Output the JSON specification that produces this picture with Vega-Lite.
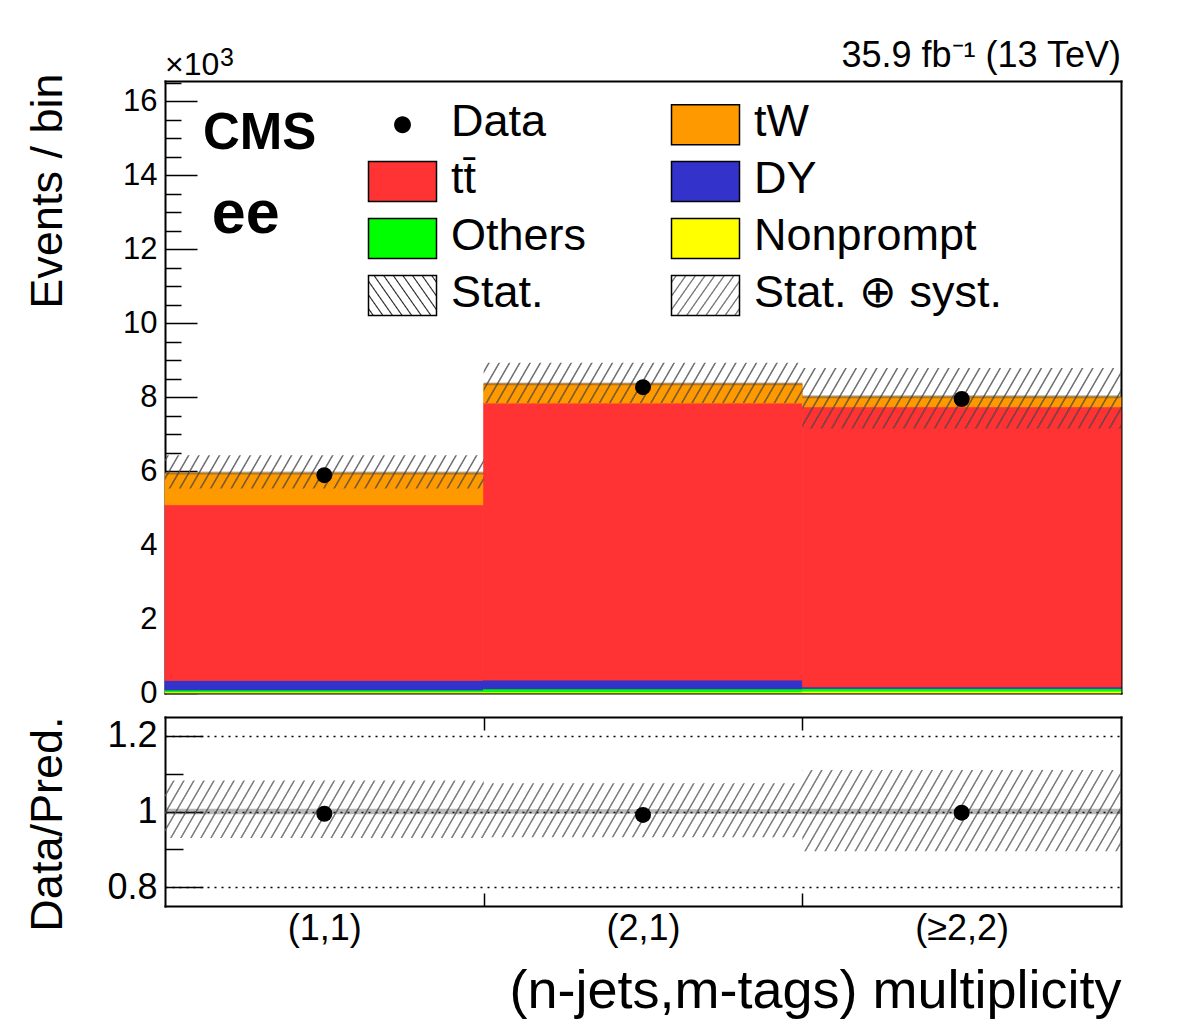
{
  "$schema": "https://vega.github.io/schema/vega-lite/v6.json",
  "background": "white",
  "padding": {"left": 24, "top": 38, "right": 50, "bottom": 15},
  "config": {
    "font": "Liberation Sans",
    "view": {"stroke": null},
    "axis": {
      "labelFont": "Liberation Sans",
      "titleFont": "Liberation Sans",
      "labelColor": "black",
      "titleColor": "black",
      "tickColor": "black",
      "domainColor": "black",
      "domainWidth": 2,
      "domainCap": "square",
      "tickWidth": 1.5,
      "grid": false,
      "titleFontWeight": "normal",
      "labelOverlap": false,
      "labelFlush": false,
      "zindex": 1
    }
  },
  "datasets": {
    "processes": [
      {"bin": "(1,1)", "lo": 0, "hi": 1, "process": "Nonprompt", "events": 0.03},
      {"bin": "(1,1)", "lo": 0, "hi": 1, "process": "Others", "events": 0.05},
      {"bin": "(1,1)", "lo": 0, "hi": 1, "process": "DY", "events": 0.26},
      {"bin": "(1,1)", "lo": 0, "hi": 1, "process": "tt̄", "events": 4.75},
      {"bin": "(1,1)", "lo": 0, "hi": 1, "process": "tW", "events": 0.86},
      {"bin": "(2,1)", "lo": 1, "hi": 2, "process": "Nonprompt", "events": 0.03},
      {"bin": "(2,1)", "lo": 1, "hi": 2, "process": "Others", "events": 0.08},
      {"bin": "(2,1)", "lo": 1, "hi": 2, "process": "DY", "events": 0.24},
      {"bin": "(2,1)", "lo": 1, "hi": 2, "process": "tt̄", "events": 7.49},
      {"bin": "(2,1)", "lo": 1, "hi": 2, "process": "tW", "events": 0.52},
      {"bin": "(≥2,2)", "lo": 2, "hi": 3, "process": "Nonprompt", "events": 0.05},
      {"bin": "(≥2,2)", "lo": 2, "hi": 3, "process": "Others", "events": 0.07},
      {"bin": "(≥2,2)", "lo": 2, "hi": 3, "process": "DY", "events": 0.045},
      {"bin": "(≥2,2)", "lo": 2, "hi": 3, "process": "tt̄", "events": 7.575},
      {"bin": "(≥2,2)", "lo": 2, "hi": 3, "process": "tW", "events": 0.27}
    ],
    "bins": [
      {"bin": "(1,1)", "lo": 0, "hi": 1, "data": 5.89, "syst_lo": 5.53, "syst_hi": 6.43, "stat_lo": 5.91, "stat_hi": 5.99, "ratio": 0.994, "r_lo": 0.930, "r_hi": 1.082, "rs_lo": 0.993, "rs_hi": 1.007},
      {"bin": "(2,1)", "lo": 1, "hi": 2, "data": 8.27, "syst_lo": 7.84, "syst_hi": 8.93, "stat_lo": 8.32, "stat_hi": 8.40, "ratio": 0.991, "r_lo": 0.932, "r_hi": 1.075, "rs_lo": 0.994, "rs_hi": 1.006},
      {"bin": "(≥2,2)", "lo": 2, "hi": 3, "data": 7.95, "syst_lo": 7.15, "syst_hi": 8.79, "stat_lo": 7.97, "stat_hi": 8.05, "ratio": 0.997, "r_lo": 0.895, "r_hi": 1.110, "rs_lo": 0.993, "rs_hi": 1.007}
    ]
  },
  "bounds": "flush",
  "spacing": 24,
  "resolve": {
    "scale": {"x": "independent", "y": "independent", "color": "independent", "stroke": "independent"},
    "axis": {"x": "independent", "y": "independent"},
    "legend": {"color": "independent"}
  },
  "vconcat": [
    {
      "width": 956,
      "height": 612,
      "resolve": {"axis": {"x": "independent", "y": "independent"}},
      "layer": [
        {
          "data": {"name": "processes"},
          "transform": [
            {"calculate": "indexof(['Nonprompt','Others','DY','tt̄','tW'], datum.process)", "as": "stack_order"},
            {"stack": "events", "groupby": ["bin"], "sort": [{"field": "stack_order", "order": "ascending"}], "as": ["y0", "y1"]}
          ],
          "mark": {"type": "rect", "strokeWidth": 0.8},
          "encoding": {
            "x": {
              "field": "lo", "type": "quantitative",
              "scale": {"domain": [0, 3], "nice": false, "zero": false},
              "axis": {"orient": "bottom", "values": [1, 2], "tickSize": -17, "labels": false, "title": null, "domain": true}
            },
            "x2": {"field": "hi"},
            "y": {
              "field": "y0", "type": "quantitative",
              "scale": {"domain": [0, 16.55], "nice": false, "zero": false},
              "axis": {
                "orient": "left",
                "values": [0, 0.5, 1, 1.5, 2, 2.5, 3, 3.5, 4, 4.5, 5, 5.5, 6, 6.5, 7, 7.5, 8, 8.5, 9, 9.5, 10, 10.5, 11, 11.5, 12, 12.5, 13, 13.5, 14, 14.5, 15, 15.5, 16, 16.5],
                "tickSize": {"condition": {"test": "datum.value % 2 === 0", "value": -32}, "value": -16},
                "labelExpr": "datum.value % 2 === 0 ? format(datum.value, 'd') : ''",
                "labelFontSize": 31,
                "labelPadding": 40,
                "title": "Events / bin",
                "titleFontSize": 45,
                "titleAngle": -90,
                "titleX": -104,
                "titleY": -8,
                "titleAlign": "right",
                "titleBaseline": "alphabetic",
                "domain": true
              }
            },
            "y2": {"field": "y1"},
            "stroke": {
              "field": "process", "type": "nominal",
              "scale": {
                "domain": ["Nonprompt", "Others", "DY", "tt̄", "tW"],
                "range": ["#ffff00", "#00ff00", "#3333cc", "#ff3333", "#ff9900"]
              },
              "legend": null
            },
            "color": {
              "field": "process", "type": "nominal",
              "scale": {
                "domain": ["Data", "tW", "tt̄", "DY", "Others", "Nonprompt", "Stat.", "Stat. ⊕ syst."],
                "range": [
                  "#000000", "#ff9900", "#ff3333", "#3333cc", "#00ff00", "#ffff00",
                  {"expr": "{gradient: 'linear', x1: 0, y1: 1, x2: 1.207, y2: 0.5015, stops: [{offset: 0.037, color: 'transparent'}, {offset: 0.05, color: '#222'}, {offset: 0.063, color: 'transparent'}, {offset: 0.137, color: 'transparent'}, {offset: 0.15, color: '#222'}, {offset: 0.163, color: 'transparent'}, {offset: 0.237, color: 'transparent'}, {offset: 0.25, color: '#222'}, {offset: 0.263, color: 'transparent'}, {offset: 0.337, color: 'transparent'}, {offset: 0.35, color: '#222'}, {offset: 0.363, color: 'transparent'}, {offset: 0.437, color: 'transparent'}, {offset: 0.45, color: '#222'}, {offset: 0.463, color: 'transparent'}, {offset: 0.537, color: 'transparent'}, {offset: 0.55, color: '#222'}, {offset: 0.563, color: 'transparent'}, {offset: 0.637, color: 'transparent'}, {offset: 0.65, color: '#222'}, {offset: 0.663, color: 'transparent'}, {offset: 0.737, color: 'transparent'}, {offset: 0.75, color: '#222'}, {offset: 0.763, color: 'transparent'}, {offset: 0.837, color: 'transparent'}, {offset: 0.85, color: '#222'}, {offset: 0.863, color: 'transparent'}, {offset: 0.937, color: 'transparent'}, {offset: 0.95, color: '#222'}, {offset: 0.963, color: 'transparent'}]}"},
                  {"expr": "{gradient: 'linear', x1: 0, y1: 0, x2: 1.207, y2: 0.4985, stops: [{offset: 0.037, color: 'transparent'}, {offset: 0.05, color: '#777'}, {offset: 0.063, color: 'transparent'}, {offset: 0.137, color: 'transparent'}, {offset: 0.15, color: '#777'}, {offset: 0.163, color: 'transparent'}, {offset: 0.237, color: 'transparent'}, {offset: 0.25, color: '#777'}, {offset: 0.263, color: 'transparent'}, {offset: 0.337, color: 'transparent'}, {offset: 0.35, color: '#777'}, {offset: 0.363, color: 'transparent'}, {offset: 0.437, color: 'transparent'}, {offset: 0.45, color: '#777'}, {offset: 0.463, color: 'transparent'}, {offset: 0.537, color: 'transparent'}, {offset: 0.55, color: '#777'}, {offset: 0.563, color: 'transparent'}, {offset: 0.637, color: 'transparent'}, {offset: 0.65, color: '#777'}, {offset: 0.663, color: 'transparent'}, {offset: 0.737, color: 'transparent'}, {offset: 0.75, color: '#777'}, {offset: 0.763, color: 'transparent'}, {offset: 0.837, color: 'transparent'}, {offset: 0.85, color: '#777'}, {offset: 0.863, color: 'transparent'}, {offset: 0.937, color: 'transparent'}, {offset: 0.95, color: '#777'}, {offset: 0.963, color: 'transparent'}]}"}
                ]
              },
              "legend": {
                "orient": "none",
                "direction": "horizontal",
                "legendX": 215,
                "legendY": 21,
                "columns": 2,
                "columnPadding": 81,
                "rowPadding": 8,
                "padding": 0,
                "title": null,
                "symbolType": "M-1.7,-1H1.7V1H-1.7Z",
                "symbolSize": 1600,
                "symbolStrokeColor": "black",
                "symbolStrokeWidth": 1.5,
                "labelFont": "Liberation Sans",
                "labelFontSize": 45,
                "labelColor": "black",
                "labelOffset": 26,
                "labelLimit": 400,
                "encode": {
                  "symbols": {
                    "update": {
                      "shape": [
                        {"test": "datum.value === 'Data'", "value": "M-1.7,-1M1.7,1M0.42,0A0.42,0.42,0,1,1,-0.42,0A0.42,0.42,0,1,1,0.42,0Z"},
                        {"value": "M-1.7,-1H1.7V1H-1.7Z"}
                      ],
                      "stroke": [
                        {"test": "datum.value === 'Data'", "value": "transparent"},
                        {"value": "black"}
                      ],
                      "strokeWidth": {"value": 1.5},
                      "opacity": {"value": 1}
                    }
                  },
                  "labels": {"update": {"dy": {"value": -3}}}
                }
              }
            }
          }
        },
        {
          "data": {"name": "bins"},
          "transform": [{"fold": ["lo", "hi"], "as": ["edge_side", "edge"]}],
          "mark": {
            "type": "area",
            "interpolate": "linear",
            "stroke": null,
            "fill": {"gradient": "linear", "x1": 0, "y1": 0, "x2": 1.0698, "y2": 0.0813, "stops": [
{"offset":0.0037,"color":"transparent"},{"offset":0.005,"color":"#666"},{"offset":0.0063,"color":"transparent"},
{"offset":0.0137,"color":"transparent"},{"offset":0.015,"color":"#666"},{"offset":0.0163,"color":"transparent"},
{"offset":0.0237,"color":"transparent"},{"offset":0.025,"color":"#666"},{"offset":0.0263,"color":"transparent"},
{"offset":0.0337,"color":"transparent"},{"offset":0.035,"color":"#666"},{"offset":0.0363,"color":"transparent"},
{"offset":0.0437,"color":"transparent"},{"offset":0.045,"color":"#666"},{"offset":0.0463,"color":"transparent"},
{"offset":0.0537,"color":"transparent"},{"offset":0.055,"color":"#666"},{"offset":0.0563,"color":"transparent"},
{"offset":0.0637,"color":"transparent"},{"offset":0.065,"color":"#666"},{"offset":0.0663,"color":"transparent"},
{"offset":0.0737,"color":"transparent"},{"offset":0.075,"color":"#666"},{"offset":0.0763,"color":"transparent"},
{"offset":0.0837,"color":"transparent"},{"offset":0.085,"color":"#666"},{"offset":0.0863,"color":"transparent"},
{"offset":0.0937,"color":"transparent"},{"offset":0.095,"color":"#666"},{"offset":0.0963,"color":"transparent"},
{"offset":0.1037,"color":"transparent"},{"offset":0.105,"color":"#666"},{"offset":0.1063,"color":"transparent"},
{"offset":0.1137,"color":"transparent"},{"offset":0.115,"color":"#666"},{"offset":0.1163,"color":"transparent"},
{"offset":0.1237,"color":"transparent"},{"offset":0.125,"color":"#666"},{"offset":0.1263,"color":"transparent"},
{"offset":0.1337,"color":"transparent"},{"offset":0.135,"color":"#666"},{"offset":0.1363,"color":"transparent"},
{"offset":0.1437,"color":"transparent"},{"offset":0.145,"color":"#666"},{"offset":0.1463,"color":"transparent"},
{"offset":0.1537,"color":"transparent"},{"offset":0.155,"color":"#666"},{"offset":0.1563,"color":"transparent"},
{"offset":0.1637,"color":"transparent"},{"offset":0.165,"color":"#666"},{"offset":0.1663,"color":"transparent"},
{"offset":0.1737,"color":"transparent"},{"offset":0.175,"color":"#666"},{"offset":0.1763,"color":"transparent"},
{"offset":0.1837,"color":"transparent"},{"offset":0.185,"color":"#666"},{"offset":0.1863,"color":"transparent"},
{"offset":0.1937,"color":"transparent"},{"offset":0.195,"color":"#666"},{"offset":0.1963,"color":"transparent"},
{"offset":0.2037,"color":"transparent"},{"offset":0.205,"color":"#666"},{"offset":0.2063,"color":"transparent"},
{"offset":0.2137,"color":"transparent"},{"offset":0.215,"color":"#666"},{"offset":0.2163,"color":"transparent"},
{"offset":0.2237,"color":"transparent"},{"offset":0.225,"color":"#666"},{"offset":0.2263,"color":"transparent"},
{"offset":0.2337,"color":"transparent"},{"offset":0.235,"color":"#666"},{"offset":0.2363,"color":"transparent"},
{"offset":0.2437,"color":"transparent"},{"offset":0.245,"color":"#666"},{"offset":0.2463,"color":"transparent"},
{"offset":0.2537,"color":"transparent"},{"offset":0.255,"color":"#666"},{"offset":0.2563,"color":"transparent"},
{"offset":0.2637,"color":"transparent"},{"offset":0.265,"color":"#666"},{"offset":0.2663,"color":"transparent"},
{"offset":0.2737,"color":"transparent"},{"offset":0.275,"color":"#666"},{"offset":0.2763,"color":"transparent"},
{"offset":0.2837,"color":"transparent"},{"offset":0.285,"color":"#666"},{"offset":0.2863,"color":"transparent"},
{"offset":0.2937,"color":"transparent"},{"offset":0.295,"color":"#666"},{"offset":0.2963,"color":"transparent"},
{"offset":0.3037,"color":"transparent"},{"offset":0.305,"color":"#666"},{"offset":0.3063,"color":"transparent"},
{"offset":0.3137,"color":"transparent"},{"offset":0.315,"color":"#666"},{"offset":0.3163,"color":"transparent"},
{"offset":0.3237,"color":"transparent"},{"offset":0.325,"color":"#666"},{"offset":0.3263,"color":"transparent"},
{"offset":0.3337,"color":"transparent"},{"offset":0.335,"color":"#666"},{"offset":0.3363,"color":"transparent"},
{"offset":0.3437,"color":"transparent"},{"offset":0.345,"color":"#666"},{"offset":0.3463,"color":"transparent"},
{"offset":0.3537,"color":"transparent"},{"offset":0.355,"color":"#666"},{"offset":0.3563,"color":"transparent"},
{"offset":0.3637,"color":"transparent"},{"offset":0.365,"color":"#666"},{"offset":0.3663,"color":"transparent"},
{"offset":0.3737,"color":"transparent"},{"offset":0.375,"color":"#666"},{"offset":0.3763,"color":"transparent"},
{"offset":0.3837,"color":"transparent"},{"offset":0.385,"color":"#666"},{"offset":0.3863,"color":"transparent"},
{"offset":0.3937,"color":"transparent"},{"offset":0.395,"color":"#666"},{"offset":0.3963,"color":"transparent"},
{"offset":0.4037,"color":"transparent"},{"offset":0.405,"color":"#666"},{"offset":0.4063,"color":"transparent"},
{"offset":0.4137,"color":"transparent"},{"offset":0.415,"color":"#666"},{"offset":0.4163,"color":"transparent"},
{"offset":0.4237,"color":"transparent"},{"offset":0.425,"color":"#666"},{"offset":0.4263,"color":"transparent"},
{"offset":0.4337,"color":"transparent"},{"offset":0.435,"color":"#666"},{"offset":0.4363,"color":"transparent"},
{"offset":0.4437,"color":"transparent"},{"offset":0.445,"color":"#666"},{"offset":0.4463,"color":"transparent"},
{"offset":0.4537,"color":"transparent"},{"offset":0.455,"color":"#666"},{"offset":0.4563,"color":"transparent"},
{"offset":0.4637,"color":"transparent"},{"offset":0.465,"color":"#666"},{"offset":0.4663,"color":"transparent"},
{"offset":0.4737,"color":"transparent"},{"offset":0.475,"color":"#666"},{"offset":0.4763,"color":"transparent"},
{"offset":0.4837,"color":"transparent"},{"offset":0.485,"color":"#666"},{"offset":0.4863,"color":"transparent"},
{"offset":0.4937,"color":"transparent"},{"offset":0.495,"color":"#666"},{"offset":0.4963,"color":"transparent"},
{"offset":0.5037,"color":"transparent"},{"offset":0.505,"color":"#666"},{"offset":0.5063,"color":"transparent"},
{"offset":0.5137,"color":"transparent"},{"offset":0.515,"color":"#666"},{"offset":0.5163,"color":"transparent"},
{"offset":0.5237,"color":"transparent"},{"offset":0.525,"color":"#666"},{"offset":0.5263,"color":"transparent"},
{"offset":0.5337,"color":"transparent"},{"offset":0.535,"color":"#666"},{"offset":0.5363,"color":"transparent"},
{"offset":0.5437,"color":"transparent"},{"offset":0.545,"color":"#666"},{"offset":0.5463,"color":"transparent"},
{"offset":0.5537,"color":"transparent"},{"offset":0.555,"color":"#666"},{"offset":0.5563,"color":"transparent"},
{"offset":0.5637,"color":"transparent"},{"offset":0.565,"color":"#666"},{"offset":0.5663,"color":"transparent"},
{"offset":0.5737,"color":"transparent"},{"offset":0.575,"color":"#666"},{"offset":0.5763,"color":"transparent"},
{"offset":0.5837,"color":"transparent"},{"offset":0.585,"color":"#666"},{"offset":0.5863,"color":"transparent"},
{"offset":0.5937,"color":"transparent"},{"offset":0.595,"color":"#666"},{"offset":0.5963,"color":"transparent"},
{"offset":0.6037,"color":"transparent"},{"offset":0.605,"color":"#666"},{"offset":0.6063,"color":"transparent"},
{"offset":0.6137,"color":"transparent"},{"offset":0.615,"color":"#666"},{"offset":0.6163,"color":"transparent"},
{"offset":0.6237,"color":"transparent"},{"offset":0.625,"color":"#666"},{"offset":0.6263,"color":"transparent"},
{"offset":0.6337,"color":"transparent"},{"offset":0.635,"color":"#666"},{"offset":0.6363,"color":"transparent"},
{"offset":0.6437,"color":"transparent"},{"offset":0.645,"color":"#666"},{"offset":0.6463,"color":"transparent"},
{"offset":0.6537,"color":"transparent"},{"offset":0.655,"color":"#666"},{"offset":0.6563,"color":"transparent"},
{"offset":0.6637,"color":"transparent"},{"offset":0.665,"color":"#666"},{"offset":0.6663,"color":"transparent"},
{"offset":0.6737,"color":"transparent"},{"offset":0.675,"color":"#666"},{"offset":0.6763,"color":"transparent"},
{"offset":0.6837,"color":"transparent"},{"offset":0.685,"color":"#666"},{"offset":0.6863,"color":"transparent"},
{"offset":0.6937,"color":"transparent"},{"offset":0.695,"color":"#666"},{"offset":0.6963,"color":"transparent"},
{"offset":0.7037,"color":"transparent"},{"offset":0.705,"color":"#666"},{"offset":0.7063,"color":"transparent"},
{"offset":0.7137,"color":"transparent"},{"offset":0.715,"color":"#666"},{"offset":0.7163,"color":"transparent"},
{"offset":0.7237,"color":"transparent"},{"offset":0.725,"color":"#666"},{"offset":0.7263,"color":"transparent"},
{"offset":0.7337,"color":"transparent"},{"offset":0.735,"color":"#666"},{"offset":0.7363,"color":"transparent"},
{"offset":0.7437,"color":"transparent"},{"offset":0.745,"color":"#666"},{"offset":0.7463,"color":"transparent"},
{"offset":0.7537,"color":"transparent"},{"offset":0.755,"color":"#666"},{"offset":0.7563,"color":"transparent"},
{"offset":0.7637,"color":"transparent"},{"offset":0.765,"color":"#666"},{"offset":0.7663,"color":"transparent"},
{"offset":0.7737,"color":"transparent"},{"offset":0.775,"color":"#666"},{"offset":0.7763,"color":"transparent"},
{"offset":0.7837,"color":"transparent"},{"offset":0.785,"color":"#666"},{"offset":0.7863,"color":"transparent"},
{"offset":0.7937,"color":"transparent"},{"offset":0.795,"color":"#666"},{"offset":0.7963,"color":"transparent"},
{"offset":0.8037,"color":"transparent"},{"offset":0.805,"color":"#666"},{"offset":0.8063,"color":"transparent"},
{"offset":0.8137,"color":"transparent"},{"offset":0.815,"color":"#666"},{"offset":0.8163,"color":"transparent"},
{"offset":0.8237,"color":"transparent"},{"offset":0.825,"color":"#666"},{"offset":0.8263,"color":"transparent"},
{"offset":0.8337,"color":"transparent"},{"offset":0.835,"color":"#666"},{"offset":0.8363,"color":"transparent"},
{"offset":0.8437,"color":"transparent"},{"offset":0.845,"color":"#666"},{"offset":0.8463,"color":"transparent"},
{"offset":0.8537,"color":"transparent"},{"offset":0.855,"color":"#666"},{"offset":0.8563,"color":"transparent"},
{"offset":0.8637,"color":"transparent"},{"offset":0.865,"color":"#666"},{"offset":0.8663,"color":"transparent"},
{"offset":0.8737,"color":"transparent"},{"offset":0.875,"color":"#666"},{"offset":0.8763,"color":"transparent"},
{"offset":0.8837,"color":"transparent"},{"offset":0.885,"color":"#666"},{"offset":0.8863,"color":"transparent"},
{"offset":0.8937,"color":"transparent"},{"offset":0.895,"color":"#666"},{"offset":0.8963,"color":"transparent"},
{"offset":0.9037,"color":"transparent"},{"offset":0.905,"color":"#666"},{"offset":0.9063,"color":"transparent"},
{"offset":0.9137,"color":"transparent"},{"offset":0.915,"color":"#666"},{"offset":0.9163,"color":"transparent"},
{"offset":0.9237,"color":"transparent"},{"offset":0.925,"color":"#666"},{"offset":0.9263,"color":"transparent"},
{"offset":0.9337,"color":"transparent"},{"offset":0.935,"color":"#666"},{"offset":0.9363,"color":"transparent"},
{"offset":0.9437,"color":"transparent"},{"offset":0.945,"color":"#666"},{"offset":0.9463,"color":"transparent"},
{"offset":0.9537,"color":"transparent"},{"offset":0.955,"color":"#666"},{"offset":0.9563,"color":"transparent"},
{"offset":0.9637,"color":"transparent"},{"offset":0.965,"color":"#666"},{"offset":0.9663,"color":"transparent"},
{"offset":0.9737,"color":"transparent"},{"offset":0.975,"color":"#666"},{"offset":0.9763,"color":"transparent"},
{"offset":0.9837,"color":"transparent"},{"offset":0.985,"color":"#666"},{"offset":0.9863,"color":"transparent"},
{"offset":0.9937,"color":"transparent"},{"offset":0.995,"color":"#666"},{"offset":0.9963,"color":"transparent"}
            ]}
          },
          "encoding": {
            "x": {"field": "edge", "type": "quantitative", "axis": null},
            "y": {"field": "syst_lo", "type": "quantitative", "axis": null},
            "y2": {"field": "syst_hi"}
          }
        },
        {
          "data": {"name": "bins"},
          "transform": [{"fold": ["lo", "hi"], "as": ["edge_side", "edge"]}],
          "mark": {"type": "area", "interpolate": "linear", "stroke": null, "fill": "#333", "fillOpacity": 0.35},
          "encoding": {
            "x": {"field": "edge", "type": "quantitative", "axis": null},
            "y": {"field": "stat_lo", "type": "quantitative", "axis": null},
            "y2": {"field": "stat_hi"}
          }
        },
        {
          "data": {"name": "bins"},
          "transform": [{"calculate": "(datum.lo + datum.hi) / 2", "as": "mid"}],
          "mark": {"type": "circle", "size": 256, "color": "black", "opacity": 1},
          "encoding": {
            "x": {"field": "mid", "type": "quantitative", "axis": {"orient": "top", "ticks": false, "labels": false, "title": null, "domain": true}},
            "y": {"field": "data", "type": "quantitative", "axis": {"orient": "right", "ticks": false, "labels": false, "title": null, "domain": true}}
          }
        },
        {
          "data": {"values": [{}]},
          "mark": {"type": "text", "text": "CMS", "font": "Liberation Sans", "fontWeight": "bold", "fontSize": 51, "align": "left", "baseline": "alphabetic", "color": "black"},
          "encoding": {
            "x": {"datum": 0.119, "type": "quantitative", "axis": null},
            "y": {"datum": 14.70, "type": "quantitative", "axis": null}
          }
        },
        {
          "data": {"values": [{}]},
          "mark": {"type": "text", "text": "ee", "font": "Liberation Sans", "fontWeight": "bold", "fontSize": 61, "align": "left", "baseline": "alphabetic", "color": "black"},
          "encoding": {
            "x": {"datum": 0.147, "type": "quantitative", "axis": null},
            "y": {"datum": 12.45, "type": "quantitative", "axis": null}
          }
        },
        {
          "data": {"values": [{}]},
          "mark": {"type": "text", "text": "×10", "font": "Liberation Sans", "fontSize": 32, "align": "left", "baseline": "alphabetic", "color": "black"},
          "encoding": {
            "x": {"datum": 0, "type": "quantitative", "axis": null},
            "y": {"datum": 16.72, "type": "quantitative", "axis": null}
          }
        },
        {
          "data": {"values": [{}]},
          "mark": {"type": "text", "text": "3", "font": "Liberation Sans", "fontSize": 25, "align": "left", "baseline": "alphabetic", "color": "black"},
          "encoding": {
            "x": {"datum": 0.1726, "type": "quantitative", "axis": null},
            "y": {"datum": 16.95, "type": "quantitative", "axis": null}
          }
        },
        {
          "data": {"values": [{}]},
          "mark": {"type": "text", "text": "35.9 fb⁻¹ (13 TeV)", "font": "Liberation Sans", "fontSize": 36, "align": "right", "baseline": "alphabetic", "color": "black"},
          "encoding": {
            "x": {"datum": 3, "type": "quantitative", "axis": null},
            "y": {"datum": 16.92, "type": "quantitative", "axis": null}
          }
        }
      ]
    },
    {
      "width": 956,
      "height": 189,
      "data": {"name": "bins"},
      "resolve": {"axis": {"x": "independent", "y": "independent"}},
      "layer": [
        {
          "transform": [{"fold": ["lo", "hi"], "as": ["edge_side", "edge"]}],
          "mark": {
            "type": "area",
            "interpolate": "linear",
            "stroke": null,
            "fill": {"gradient": "linear", "x1": 0, "y1": 0, "x2": 1.0466, "y2": 0.0514, "stops": [
{"offset":0.0037,"color":"transparent"},{"offset":0.005,"color":"#777"},{"offset":0.0063,"color":"transparent"},
{"offset":0.0137,"color":"transparent"},{"offset":0.015,"color":"#777"},{"offset":0.0163,"color":"transparent"},
{"offset":0.0237,"color":"transparent"},{"offset":0.025,"color":"#777"},{"offset":0.0263,"color":"transparent"},
{"offset":0.0337,"color":"transparent"},{"offset":0.035,"color":"#777"},{"offset":0.0363,"color":"transparent"},
{"offset":0.0437,"color":"transparent"},{"offset":0.045,"color":"#777"},{"offset":0.0463,"color":"transparent"},
{"offset":0.0537,"color":"transparent"},{"offset":0.055,"color":"#777"},{"offset":0.0563,"color":"transparent"},
{"offset":0.0637,"color":"transparent"},{"offset":0.065,"color":"#777"},{"offset":0.0663,"color":"transparent"},
{"offset":0.0737,"color":"transparent"},{"offset":0.075,"color":"#777"},{"offset":0.0763,"color":"transparent"},
{"offset":0.0837,"color":"transparent"},{"offset":0.085,"color":"#777"},{"offset":0.0863,"color":"transparent"},
{"offset":0.0937,"color":"transparent"},{"offset":0.095,"color":"#777"},{"offset":0.0963,"color":"transparent"},
{"offset":0.1037,"color":"transparent"},{"offset":0.105,"color":"#777"},{"offset":0.1063,"color":"transparent"},
{"offset":0.1137,"color":"transparent"},{"offset":0.115,"color":"#777"},{"offset":0.1163,"color":"transparent"},
{"offset":0.1237,"color":"transparent"},{"offset":0.125,"color":"#777"},{"offset":0.1263,"color":"transparent"},
{"offset":0.1337,"color":"transparent"},{"offset":0.135,"color":"#777"},{"offset":0.1363,"color":"transparent"},
{"offset":0.1437,"color":"transparent"},{"offset":0.145,"color":"#777"},{"offset":0.1463,"color":"transparent"},
{"offset":0.1537,"color":"transparent"},{"offset":0.155,"color":"#777"},{"offset":0.1563,"color":"transparent"},
{"offset":0.1637,"color":"transparent"},{"offset":0.165,"color":"#777"},{"offset":0.1663,"color":"transparent"},
{"offset":0.1737,"color":"transparent"},{"offset":0.175,"color":"#777"},{"offset":0.1763,"color":"transparent"},
{"offset":0.1837,"color":"transparent"},{"offset":0.185,"color":"#777"},{"offset":0.1863,"color":"transparent"},
{"offset":0.1937,"color":"transparent"},{"offset":0.195,"color":"#777"},{"offset":0.1963,"color":"transparent"},
{"offset":0.2037,"color":"transparent"},{"offset":0.205,"color":"#777"},{"offset":0.2063,"color":"transparent"},
{"offset":0.2137,"color":"transparent"},{"offset":0.215,"color":"#777"},{"offset":0.2163,"color":"transparent"},
{"offset":0.2237,"color":"transparent"},{"offset":0.225,"color":"#777"},{"offset":0.2263,"color":"transparent"},
{"offset":0.2337,"color":"transparent"},{"offset":0.235,"color":"#777"},{"offset":0.2363,"color":"transparent"},
{"offset":0.2437,"color":"transparent"},{"offset":0.245,"color":"#777"},{"offset":0.2463,"color":"transparent"},
{"offset":0.2537,"color":"transparent"},{"offset":0.255,"color":"#777"},{"offset":0.2563,"color":"transparent"},
{"offset":0.2637,"color":"transparent"},{"offset":0.265,"color":"#777"},{"offset":0.2663,"color":"transparent"},
{"offset":0.2737,"color":"transparent"},{"offset":0.275,"color":"#777"},{"offset":0.2763,"color":"transparent"},
{"offset":0.2837,"color":"transparent"},{"offset":0.285,"color":"#777"},{"offset":0.2863,"color":"transparent"},
{"offset":0.2937,"color":"transparent"},{"offset":0.295,"color":"#777"},{"offset":0.2963,"color":"transparent"},
{"offset":0.3037,"color":"transparent"},{"offset":0.305,"color":"#777"},{"offset":0.3063,"color":"transparent"},
{"offset":0.3137,"color":"transparent"},{"offset":0.315,"color":"#777"},{"offset":0.3163,"color":"transparent"},
{"offset":0.3237,"color":"transparent"},{"offset":0.325,"color":"#777"},{"offset":0.3263,"color":"transparent"},
{"offset":0.3337,"color":"transparent"},{"offset":0.335,"color":"#777"},{"offset":0.3363,"color":"transparent"},
{"offset":0.3437,"color":"transparent"},{"offset":0.345,"color":"#777"},{"offset":0.3463,"color":"transparent"},
{"offset":0.3537,"color":"transparent"},{"offset":0.355,"color":"#777"},{"offset":0.3563,"color":"transparent"},
{"offset":0.3637,"color":"transparent"},{"offset":0.365,"color":"#777"},{"offset":0.3663,"color":"transparent"},
{"offset":0.3737,"color":"transparent"},{"offset":0.375,"color":"#777"},{"offset":0.3763,"color":"transparent"},
{"offset":0.3837,"color":"transparent"},{"offset":0.385,"color":"#777"},{"offset":0.3863,"color":"transparent"},
{"offset":0.3937,"color":"transparent"},{"offset":0.395,"color":"#777"},{"offset":0.3963,"color":"transparent"},
{"offset":0.4037,"color":"transparent"},{"offset":0.405,"color":"#777"},{"offset":0.4063,"color":"transparent"},
{"offset":0.4137,"color":"transparent"},{"offset":0.415,"color":"#777"},{"offset":0.4163,"color":"transparent"},
{"offset":0.4237,"color":"transparent"},{"offset":0.425,"color":"#777"},{"offset":0.4263,"color":"transparent"},
{"offset":0.4337,"color":"transparent"},{"offset":0.435,"color":"#777"},{"offset":0.4363,"color":"transparent"},
{"offset":0.4437,"color":"transparent"},{"offset":0.445,"color":"#777"},{"offset":0.4463,"color":"transparent"},
{"offset":0.4537,"color":"transparent"},{"offset":0.455,"color":"#777"},{"offset":0.4563,"color":"transparent"},
{"offset":0.4637,"color":"transparent"},{"offset":0.465,"color":"#777"},{"offset":0.4663,"color":"transparent"},
{"offset":0.4737,"color":"transparent"},{"offset":0.475,"color":"#777"},{"offset":0.4763,"color":"transparent"},
{"offset":0.4837,"color":"transparent"},{"offset":0.485,"color":"#777"},{"offset":0.4863,"color":"transparent"},
{"offset":0.4937,"color":"transparent"},{"offset":0.495,"color":"#777"},{"offset":0.4963,"color":"transparent"},
{"offset":0.5037,"color":"transparent"},{"offset":0.505,"color":"#777"},{"offset":0.5063,"color":"transparent"},
{"offset":0.5137,"color":"transparent"},{"offset":0.515,"color":"#777"},{"offset":0.5163,"color":"transparent"},
{"offset":0.5237,"color":"transparent"},{"offset":0.525,"color":"#777"},{"offset":0.5263,"color":"transparent"},
{"offset":0.5337,"color":"transparent"},{"offset":0.535,"color":"#777"},{"offset":0.5363,"color":"transparent"},
{"offset":0.5437,"color":"transparent"},{"offset":0.545,"color":"#777"},{"offset":0.5463,"color":"transparent"},
{"offset":0.5537,"color":"transparent"},{"offset":0.555,"color":"#777"},{"offset":0.5563,"color":"transparent"},
{"offset":0.5637,"color":"transparent"},{"offset":0.565,"color":"#777"},{"offset":0.5663,"color":"transparent"},
{"offset":0.5737,"color":"transparent"},{"offset":0.575,"color":"#777"},{"offset":0.5763,"color":"transparent"},
{"offset":0.5837,"color":"transparent"},{"offset":0.585,"color":"#777"},{"offset":0.5863,"color":"transparent"},
{"offset":0.5937,"color":"transparent"},{"offset":0.595,"color":"#777"},{"offset":0.5963,"color":"transparent"},
{"offset":0.6037,"color":"transparent"},{"offset":0.605,"color":"#777"},{"offset":0.6063,"color":"transparent"},
{"offset":0.6137,"color":"transparent"},{"offset":0.615,"color":"#777"},{"offset":0.6163,"color":"transparent"},
{"offset":0.6237,"color":"transparent"},{"offset":0.625,"color":"#777"},{"offset":0.6263,"color":"transparent"},
{"offset":0.6337,"color":"transparent"},{"offset":0.635,"color":"#777"},{"offset":0.6363,"color":"transparent"},
{"offset":0.6437,"color":"transparent"},{"offset":0.645,"color":"#777"},{"offset":0.6463,"color":"transparent"},
{"offset":0.6537,"color":"transparent"},{"offset":0.655,"color":"#777"},{"offset":0.6563,"color":"transparent"},
{"offset":0.6637,"color":"transparent"},{"offset":0.665,"color":"#777"},{"offset":0.6663,"color":"transparent"},
{"offset":0.6737,"color":"transparent"},{"offset":0.675,"color":"#777"},{"offset":0.6763,"color":"transparent"},
{"offset":0.6837,"color":"transparent"},{"offset":0.685,"color":"#777"},{"offset":0.6863,"color":"transparent"},
{"offset":0.6937,"color":"transparent"},{"offset":0.695,"color":"#777"},{"offset":0.6963,"color":"transparent"},
{"offset":0.7037,"color":"transparent"},{"offset":0.705,"color":"#777"},{"offset":0.7063,"color":"transparent"},
{"offset":0.7137,"color":"transparent"},{"offset":0.715,"color":"#777"},{"offset":0.7163,"color":"transparent"},
{"offset":0.7237,"color":"transparent"},{"offset":0.725,"color":"#777"},{"offset":0.7263,"color":"transparent"},
{"offset":0.7337,"color":"transparent"},{"offset":0.735,"color":"#777"},{"offset":0.7363,"color":"transparent"},
{"offset":0.7437,"color":"transparent"},{"offset":0.745,"color":"#777"},{"offset":0.7463,"color":"transparent"},
{"offset":0.7537,"color":"transparent"},{"offset":0.755,"color":"#777"},{"offset":0.7563,"color":"transparent"},
{"offset":0.7637,"color":"transparent"},{"offset":0.765,"color":"#777"},{"offset":0.7663,"color":"transparent"},
{"offset":0.7737,"color":"transparent"},{"offset":0.775,"color":"#777"},{"offset":0.7763,"color":"transparent"},
{"offset":0.7837,"color":"transparent"},{"offset":0.785,"color":"#777"},{"offset":0.7863,"color":"transparent"},
{"offset":0.7937,"color":"transparent"},{"offset":0.795,"color":"#777"},{"offset":0.7963,"color":"transparent"},
{"offset":0.8037,"color":"transparent"},{"offset":0.805,"color":"#777"},{"offset":0.8063,"color":"transparent"},
{"offset":0.8137,"color":"transparent"},{"offset":0.815,"color":"#777"},{"offset":0.8163,"color":"transparent"},
{"offset":0.8237,"color":"transparent"},{"offset":0.825,"color":"#777"},{"offset":0.8263,"color":"transparent"},
{"offset":0.8337,"color":"transparent"},{"offset":0.835,"color":"#777"},{"offset":0.8363,"color":"transparent"},
{"offset":0.8437,"color":"transparent"},{"offset":0.845,"color":"#777"},{"offset":0.8463,"color":"transparent"},
{"offset":0.8537,"color":"transparent"},{"offset":0.855,"color":"#777"},{"offset":0.8563,"color":"transparent"},
{"offset":0.8637,"color":"transparent"},{"offset":0.865,"color":"#777"},{"offset":0.8663,"color":"transparent"},
{"offset":0.8737,"color":"transparent"},{"offset":0.875,"color":"#777"},{"offset":0.8763,"color":"transparent"},
{"offset":0.8837,"color":"transparent"},{"offset":0.885,"color":"#777"},{"offset":0.8863,"color":"transparent"},
{"offset":0.8937,"color":"transparent"},{"offset":0.895,"color":"#777"},{"offset":0.8963,"color":"transparent"},
{"offset":0.9037,"color":"transparent"},{"offset":0.905,"color":"#777"},{"offset":0.9063,"color":"transparent"},
{"offset":0.9137,"color":"transparent"},{"offset":0.915,"color":"#777"},{"offset":0.9163,"color":"transparent"},
{"offset":0.9237,"color":"transparent"},{"offset":0.925,"color":"#777"},{"offset":0.9263,"color":"transparent"},
{"offset":0.9337,"color":"transparent"},{"offset":0.935,"color":"#777"},{"offset":0.9363,"color":"transparent"},
{"offset":0.9437,"color":"transparent"},{"offset":0.945,"color":"#777"},{"offset":0.9463,"color":"transparent"},
{"offset":0.9537,"color":"transparent"},{"offset":0.955,"color":"#777"},{"offset":0.9563,"color":"transparent"},
{"offset":0.9637,"color":"transparent"},{"offset":0.965,"color":"#777"},{"offset":0.9663,"color":"transparent"},
{"offset":0.9737,"color":"transparent"},{"offset":0.975,"color":"#777"},{"offset":0.9763,"color":"transparent"},
{"offset":0.9837,"color":"transparent"},{"offset":0.985,"color":"#777"},{"offset":0.9863,"color":"transparent"},
{"offset":0.9937,"color":"transparent"},{"offset":0.995,"color":"#777"},{"offset":0.9963,"color":"transparent"}
            ]}
          },
          "encoding": {
            "x": {
              "field": "edge", "type": "quantitative",
              "scale": {"domain": [0, 3], "nice": false, "zero": false},
              "axis": {
                "orient": "bottom",
                "values": [0.5, 1, 1.5, 2, 2.5],
                "tickSize": -13,
                "tickOpacity": {"condition": {"test": "datum.value % 1 === 0", "value": 1}, "value": 0},
                "labelExpr": "datum.value === 0.5 ? '(1,1)' : datum.value === 1.5 ? '(2,1)' : datum.value === 2.5 ? '(≥2,2)' : ''",
                "labelFontSize": 36,
                "labelBaseline": "alphabetic",
                "labelPadding": 46,
                "title": "(n-jets,m-tags) multiplicity",
                "titleFontSize": 54,
                "titleX": 956,
                "titleY": 101,
                "titleAlign": "right",
                "titleBaseline": "alphabetic",
                "domain": true
              }
            },
            "y": {
              "field": "r_lo", "type": "quantitative",
              "scale": {"domain": [0.75, 1.25], "nice": false, "zero": false},
              "axis": {
                "orient": "left",
                "values": [0.8, 0.9, 1, 1.1, 1.2],
                "tickSize": {"condition": {"test": "datum.value === 0.9 || datum.value === 1.1", "value": -18}, "value": -38},
                "labelExpr": "datum.value === 0.8 ? '0.8' : datum.value === 1 ? '1' : datum.value === 1.2 ? '1.2' : ''",
                "labelFontSize": 36,
                "labelPadding": 46,
                "grid": true,
                "gridColor": "black",
                "gridWidth": 1.5,
                "gridDash": [2, 5],
                "gridOpacity": {"condition": {"test": "datum.value === 0.9 || datum.value === 1.1", "value": 0}, "value": 1},
                "title": "Data/Pred.",
                "titleFontSize": 45,
                "titleAngle": -90,
                "titleX": -104,
                "titleY": -1,
                "titleAlign": "right",
                "titleBaseline": "alphabetic",
                "domain": true
              }
            },
            "y2": {"field": "r_hi"}
          }
        },
        {
          "transform": [{"fold": ["lo", "hi"], "as": ["edge_side", "edge"]}],
          "mark": {"type": "area", "interpolate": "linear", "stroke": null, "fill": "#333", "fillOpacity": 0.35},
          "encoding": {
            "x": {"field": "edge", "type": "quantitative", "axis": null},
            "y": {"field": "rs_lo", "type": "quantitative", "axis": null},
            "y2": {"field": "rs_hi"}
          }
        },
        {
          "transform": [{"calculate": "(datum.lo + datum.hi) / 2", "as": "mid"}],
          "mark": {"type": "circle", "size": 256, "color": "black", "opacity": 1},
          "encoding": {
            "x": {"field": "mid", "type": "quantitative", "axis": {"orient": "top", "values": [1, 2], "tickSize": -13, "labels": false, "title": null, "domain": true}},
            "y": {"field": "ratio", "type": "quantitative", "axis": {"orient": "right", "ticks": false, "labels": false, "title": null, "domain": true}}
          }
        }
      ]
    }
  ]
}
